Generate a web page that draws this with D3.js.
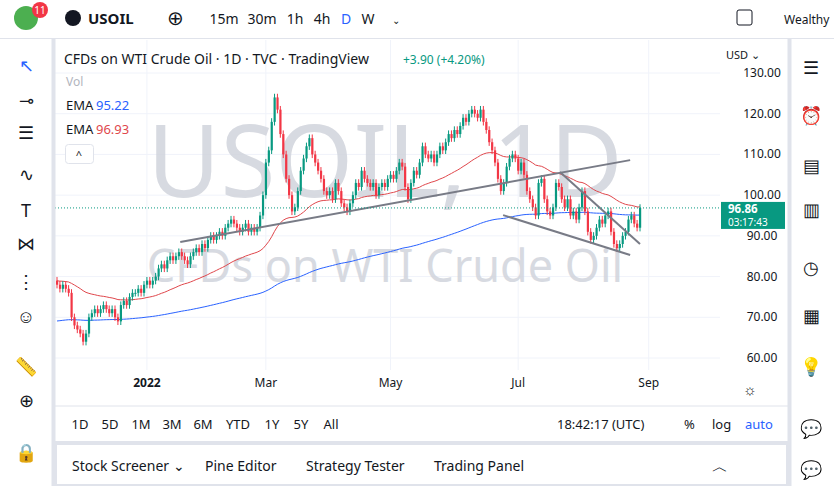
<!DOCTYPE html><html><head><meta charset="utf-8">
<script src="https://cdn.jsdelivr.net/npm/d3@7/dist/d3.min.js"></script>
<style>body{margin:0;background:#fff;font-family:"Noto Sans",Roboto,sans-serif}svg text{font-family:"Noto Sans",Roboto,sans-serif}</style>
</head><body><svg id="c" width="834" height="486"></svg>
<script>
const closes=[78,77,78,77,76,70,68,67,66,64,
66,70,71,72,71,72,73,72,71,72,
70,69,73,74,73,75,76,76,77,76,
78,79,78,79,80,82,83,82,84,85,
84,85,86,85,84,83,85,86,87,86,
88,87,89,90,89,90,91,90,92,93,
94,93,92,91,92,93,91,92,91,92,
95,100,108,111,118,124,121,115,110,104,
100,96,97,101,106,109,112,114,110,108,
106,104,101,100,101,99,103,101,98,97,
96,98,100,103,102,106,104,103,102,103,
100,102,103,102,104,105,104,106,108,107,
102,99,103,106,105,108,112,110,109,110,
108,110,112,111,113,115,114,116,115,117,
119,118,120,121,120,119,121,118,116,113,
111,108,104,101,103,107,109,110,109,106,
108,105,101,99,97,95,103,104,99,96,
95,97,103,102,99,97,99,95,96,94,
97,101,96,91,89,90,92,94,93,95,
96,91,88,87,88,90,91,94,95,93,92,96.86];
const firstOpen=79;
const priceTicks=[60,70,80,90,100,110,120,130];
const timeTicks=[{i:31,t:"2022",b:true},{i:72,t:"Mar"},{i:115,t:"May"},{i:159,t:"Jul"},{i:204,t:"Sep"}];
const trendLines=[[[42.5,88.5],[197.6,108.6]],[[173.4,105.7],[201,88]],[[153.8,95.1],[197.6,85.3]]];
const emaFast={period:50,seed:79,color:"#e0474c",value:"96.93"};
const emaSlow={period:200,seed:69,color:"#2962ff",value:"95.22"};

const svg=d3.select("#c");
const x=d3.scaleLinear().domain([0,201]).range([57,640]);
const y=d3.scaleLinear().domain([60,130]).range([358,73]);
const L=55,R=720,T=40,B=400;
const g=svg.append("g");
priceTicks.forEach(p=>g.append("line").attr("x1",L).attr("x2",R).attr("y1",y(p)).attr("y2",y(p)).attr("stroke","#f0f3fa"));
timeTicks.forEach(t=>g.append("line").attr("x1",x(t.i)).attr("x2",x(t.i)).attr("y1",T).attr("y2",B-30).attr("stroke","#f0f3fa"));
svg.append("text").attr("x",385).attr("y",197).attr("text-anchor","middle").attr("font-size",100).attr("fill","#d1d4dc").attr("opacity",.85).text("USOIL, 1D");
svg.append("text").attr("x",385).attr("y",282).attr("text-anchor","middle").attr("font-size",45).attr("fill","#d1d4dc").attr("opacity",.85).text("CFDs on WTI Crude Oil");
function ema(cfg){let e=cfg.seed,k=2/(cfg.period+1);return closes.map(c=>e=c*k+e*(1-k));}
[emaSlow,emaFast].forEach(cfg=>{svg.append("path").attr("d",d3.line().x((d,i)=>x(i)).y(d=>y(d))(ema(cfg))).attr("fill","none").attr("stroke",cfg.color).attr("stroke-width",1);});
const up="#089981",dn="#f23645";
const cg=svg.append("g");
closes.forEach((c,i)=>{const o=i?closes[i-1]:firstOpen;const col=c>=o?up:dn;const hi=Math.max(o,c)+0.9,lo=Math.min(o,c)-0.9;
 cg.append("line").attr("x1",x(i)).attr("x2",x(i)).attr("y1",y(hi)).attr("y2",y(lo)).attr("stroke",col);
 const top=y(Math.max(o,c)),h=Math.max(1,Math.abs(y(o)-y(c)));
 cg.append("rect").attr("x",x(i)-1).attr("width",2.2).attr("y",top).attr("height",h).attr("fill",col);});
trendLines.forEach(l=>svg.append("line").attr("x1",x(l[0][0])).attr("y1",y(l[0][1])).attr("x2",x(l[1][0])).attr("y2",y(l[1][1])).attr("stroke","#787b86").attr("stroke-width",2));
const last=closes[closes.length-1];
svg.append("line").attr("x1",L).attr("x2",R).attr("y1",y(last)).attr("y2",y(last)).attr("stroke",up).attr("stroke-dasharray","1,2");
const pa=svg.append("g").attr("transform",`translate(${R+42},0)`);
priceTicks.forEach(p=>pa.append("text").attr("x",0).attr("y",y(p)+4).attr("text-anchor","middle").attr("font-size",12).attr("fill","#131722").text(p.toFixed(2)));
svg.append("text").attr("x",726).attr("y",59).attr("font-size",11).attr("fill","#131722").text("USD ⌄");
svg.append("rect").attr("x",721).attr("y",y(last)-6).attr("width",64).attr("height",27).attr("fill",up);
svg.append("text").attr("x",728).attr("y",y(last)+5).attr("font-size",11.5).attr("font-weight","bold").attr("fill","#fff").text(last.toFixed(2));
svg.append("text").attr("x",728).attr("y",y(last)+18).attr("font-size",10).attr("fill","#fff").text("03:17:43");
timeTicks.forEach(t=>svg.append("text").attr("x",x(t.i)).attr("y",387).attr("text-anchor","middle").attr("font-size",12).attr("font-weight",t.b?"bold":"normal").attr("fill","#131722").text(t.t));
svg.append("text").attr("x",750).attr("y",395).attr("text-anchor","middle").attr("font-size",15).attr("fill","#131722").text("☼");
svg.append("line").attr("x1",0).attr("x2",834).attr("y1",38.5).attr("y2",38.5).attr("stroke","#e0e3eb");
svg.append("line").attr("x1",53.5).attr("x2",53.5).attr("y1",38).attr("y2",486).attr("stroke","#e0e3eb").attr("stroke-width",4);
svg.append("line").attr("x1",789.5).attr("x2",789.5).attr("y1",38).attr("y2",486).attr("stroke","#e0e3eb").attr("stroke-width",4);
svg.append("line").attr("x1",55).attr("x2",788).attr("y1",406).attr("y2",406).attr("stroke","#e0e3eb");
svg.append("rect").attr("x",55).attr("y",443).attr("width",733).attr("height",43).attr("fill","#fff").attr("stroke","#e0e3eb").attr("stroke-width",4);
svg.append("text").attr("x",64).attr("y",64).attr("font-size",14).attr("fill","#131722").text("CFDs on WTI Crude Oil · 1D · TVC · TradingView");
svg.append("text").attr("x",403).attr("y",64).attr("font-size",12).attr("fill",up).text("+3.90 (+4.20%)");
svg.append("text").attr("x",66).attr("y",86).attr("font-size",12).attr("fill","#b2b5be").text("Vol");
[[emaSlow,110],[emaFast,134]].forEach(([c,yy])=>{svg.append("text").attr("x",66).attr("y",yy).attr("font-size",13).attr("fill","#131722").text("EMA");svg.append("text").attr("x",96).attr("y",yy).attr("font-size",13).attr("fill",c.color).text(c.value);});
svg.append("rect").attr("x",65.5).attr("y",144.5).attr("width",28).attr("height",19).attr("rx",3).attr("fill","#fff").attr("stroke","#e0e3eb");
svg.append("text").attr("x",79).attr("y",159).attr("text-anchor","middle").attr("font-size",11).attr("fill","#131722").text("^");
svg.append("circle").attr("cx",26).attr("cy",18).attr("r",12).attr("fill","#4caf50");
svg.append("circle").attr("cx",40).attr("cy",10).attr("r",8).attr("fill","#f23645");
svg.append("text").attr("x",40).attr("y",14).attr("text-anchor","middle").attr("font-size",10).attr("fill","#fff").text("11");
svg.append("circle").attr("cx",73).attr("cy",18).attr("r",8).attr("fill","#131722");
svg.append("text").attr("x",88).attr("y",24).attr("font-size",15).attr("font-weight","bold").attr("fill","#131722").text("USOIL");
svg.append("text").attr("x",175).attr("y",25).attr("text-anchor","middle").attr("font-size",20).attr("fill","#131722").text("⊕");
[["15m",224],["30m",262],["1h",295],["4h",322],["D",346],["W",368]].forEach(([t,xx])=>svg.append("text").attr("x",xx).attr("y",24).attr("text-anchor","middle").attr("font-size",14).attr("fill",t=="D"?"#2962ff":"#131722").text(t));
svg.append("text").attr("x",392).attr("y",24).attr("font-size",10).attr("fill","#131722").text("⌄");
svg.append("rect").attr("x",737).attr("y",10).attr("width",15).attr("height",15).attr("rx",2).attr("fill","none").attr("stroke","#131722");
svg.append("text").attr("x",784).attr("y",24).attr("font-size",12).attr("fill","#131722").text("Wealthy");
[["1D",80],["5D",110],["1M",141],["3M",172],["6M",203],["YTD",238],["1Y",272],["5Y",301],["All",331]].forEach(([t,xx])=>svg.append("text").attr("x",xx).attr("y",429).attr("text-anchor","middle").attr("font-size",13).attr("fill","#131722").text(t));
svg.append("text").attr("x",557).attr("y",429).attr("font-size",13).attr("fill","#131722").text("18:42:17 (UTC)");
svg.append("text").attr("x",684).attr("y",429).attr("font-size",13).attr("fill","#131722").text("%");
svg.append("text").attr("x",712).attr("y",429).attr("font-size",13).attr("fill","#131722").text("log");
svg.append("text").attr("x",745).attr("y",429).attr("font-size",13).attr("fill","#2962ff").text("auto");
[["Stock Screener ⌄",72],["Pine Editor",205],["Strategy Tester",306],["Trading Panel",434]].forEach(([t,xx])=>svg.append("text").attr("x",xx).attr("y",471).attr("font-size",14).attr("fill","#131722").text(t));
svg.append("text").attr("x",712).attr("y",472).attr("font-size",16).attr("fill","#131722").text("︿");
["↖","⊸","☰","∿","T","⋈","⋮","☺","📏","⊕","🔒"].forEach((t,i)=>svg.append("text").attr("x",26).attr("y",[72,107,139,181,217,250,288,323,373,407,459][i]).attr("text-anchor","middle").attr("font-size",18).attr("fill",i==0?"#2962ff":"#131722").text(t));
["☰","⏰","▤","▥","◷","▦","💡","💬","💬"].forEach((t,i)=>svg.append("text").attr("x",811).attr("y",[74,122,172,216,274,322,373,435,476][i]).attr("text-anchor","middle").attr("font-size",18).attr("fill","#131722").text(t));
</script></body></html>
